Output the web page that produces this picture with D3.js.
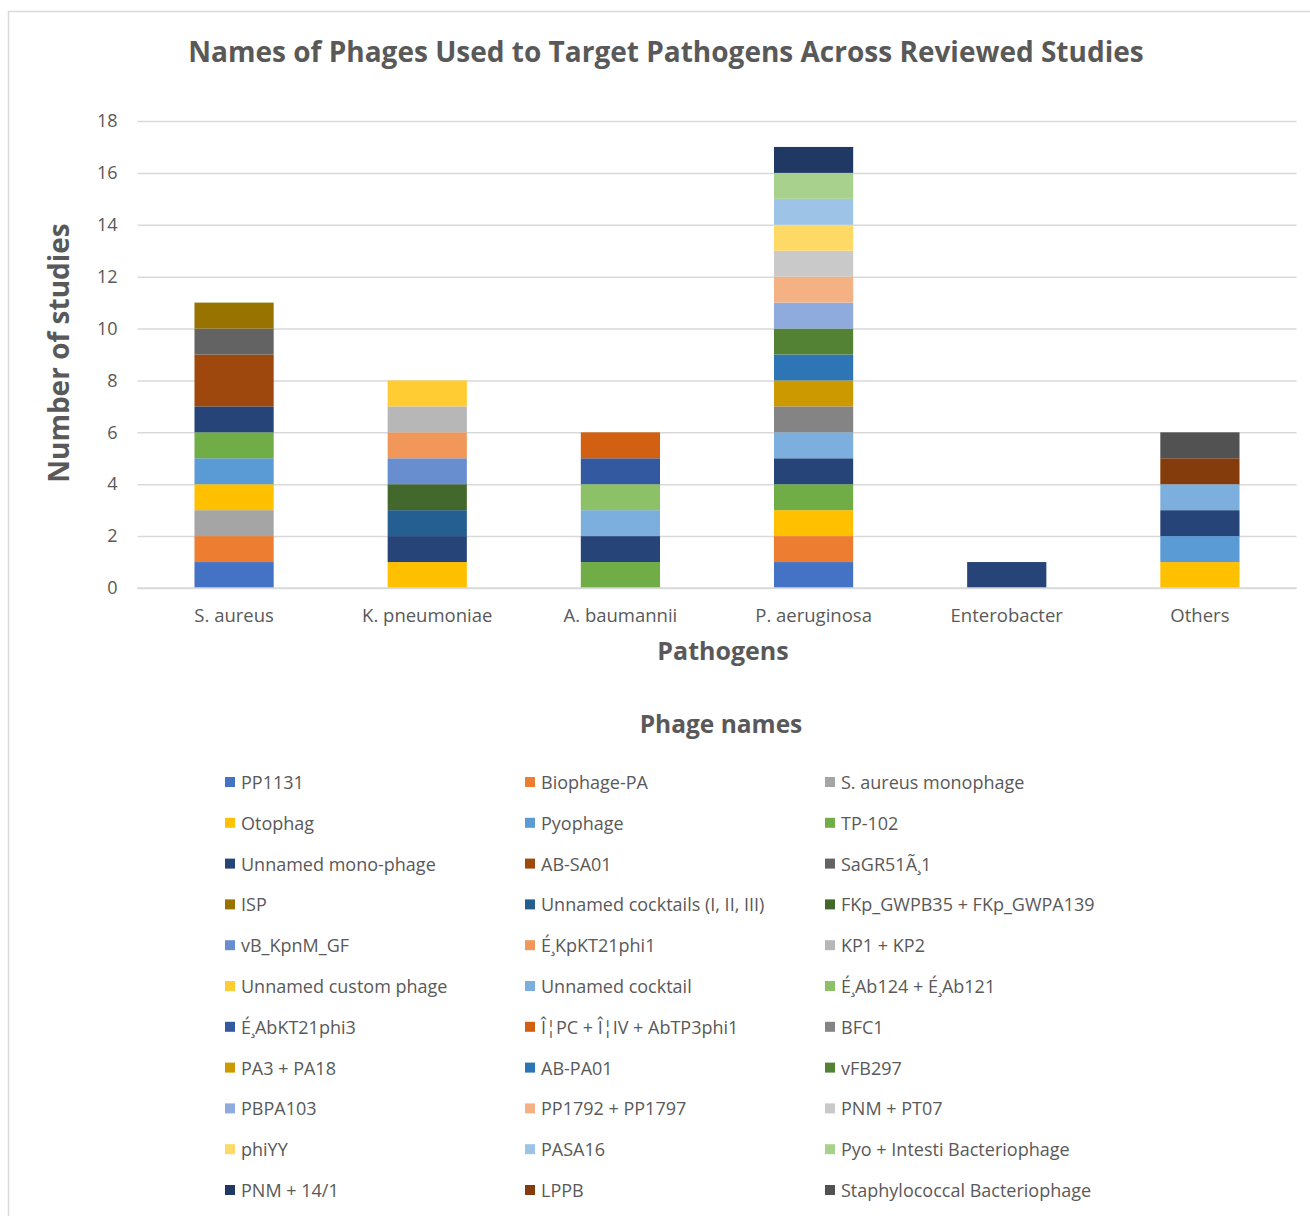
<!DOCTYPE html>
<html>
<head>
<meta charset="utf-8">
<script src="https://cdn.jsdelivr.net/npm/d3@7"></script>
<style>
  body { margin: 0; background: #fff; font-family: "Open Sans", Lato, sans-serif; }
  svg text { fill: #595959; }
</style>
</head>
<body>
<div id="chart"></div>
<script>
// Categories on the x axis
const pathogens = ["S. aureus", "K. pneumoniae", "A. baumannii", "P. aeruginosa", "Enterobacter", "Others"];

// Series names (legend order = stack order, bottom up)
const phageNames = [
  "PP1131", "Biophage-PA", "S. aureus monophage",
  "Otophag", "Pyophage", "TP-102",
  "Unnamed mono-phage", "AB-SA01", "SaGR51\u00C3\u00B81",
  "ISP", "Unnamed cocktails (I, II, III)", "FKp_GWPB35 + FKp_GWPA139",
  "vB_KpnM_GF", "\u00C9\u00B8KpKT21phi1", "KP1 + KP2",
  "Unnamed custom phage", "Unnamed cocktail", "\u00C9\u00B8Ab124 + \u00C9\u00B8Ab121",
  "\u00C9\u00B8AbKT21phi3", "\u00CE\u00A6PC + \u00CE\u00A6IV + AbTP3phi1", "BFC1",
  "PA3 + PA18", "AB-PA01", "vFB297",
  "PBPA103", "PP1792 + PP1797", "PNM + PT07",
  "phiYY", "PASA16", "Pyo + Intesti Bacteriophage",
  "PNM + 14/1", "LPPB", "Staphylococcal Bacteriophage"
];

// Office-theme series colours
const phageColors = [
  "#4472C4", "#ED7D31", "#A5A5A5", "#FFC000", "#5B9BD5", "#70AD47",
  "#264478", "#9E480E", "#636363", "#997300", "#255E91", "#43682B",
  "#698ED0", "#F1975A", "#B7B7B7", "#FFCD33", "#7CAFDD", "#8CC168",
  "#335AA1", "#D26012", "#848484", "#CC9A00", "#2E75B6", "#548235",
  "#8FAADC", "#F4B183", "#C9C9C9", "#FFD966", "#9DC3E6", "#A9D18E",
  "#203864", "#843C0C", "#525252"
];

// Number of studies per phage, one value per pathogen
// order: S. aureus, K. pneumoniae, A. baumannii, P. aeruginosa, Enterobacter, Others
const studyCounts = [
  [1, 0, 0, 1, 0, 0], // PP1131
  [1, 0, 0, 1, 0, 0], // Biophage-PA
  [1, 0, 0, 0, 0, 0], // S. aureus monophage
  [1, 1, 0, 1, 0, 1], // Otophag
  [1, 0, 0, 0, 0, 1], // Pyophage
  [1, 0, 1, 1, 0, 0], // TP-102
  [1, 1, 1, 1, 1, 1], // Unnamed mono-phage
  [2, 0, 0, 0, 0, 0], // AB-SA01
  [1, 0, 0, 0, 0, 0], // SaGR51
  [1, 0, 0, 0, 0, 0], // ISP
  [0, 1, 0, 0, 0, 0], // Unnamed cocktails (I, II, III)
  [0, 1, 0, 0, 0, 0], // FKp
  [0, 1, 0, 0, 0, 0], // vB_KpnM_GF
  [0, 1, 0, 0, 0, 0], // KpKT21phi1
  [0, 1, 0, 0, 0, 0], // KP1 + KP2
  [0, 1, 0, 0, 0, 0], // Unnamed custom phage
  [0, 0, 1, 1, 0, 1], // Unnamed cocktail
  [0, 0, 1, 0, 0, 0], // Ab124 + Ab121
  [0, 0, 1, 0, 0, 0], // AbKT21phi3
  [0, 0, 1, 0, 0, 0], // PC + IV + AbTP3phi1
  [0, 0, 0, 1, 0, 0], // BFC1
  [0, 0, 0, 1, 0, 0], // PA3 + PA18
  [0, 0, 0, 1, 0, 0], // AB-PA01
  [0, 0, 0, 1, 0, 0], // vFB297
  [0, 0, 0, 1, 0, 0], // PBPA103
  [0, 0, 0, 1, 0, 0], // PP1792 + PP1797
  [0, 0, 0, 1, 0, 0], // PNM + PT07
  [0, 0, 0, 1, 0, 0], // phiYY
  [0, 0, 0, 1, 0, 0], // PASA16
  [0, 0, 0, 1, 0, 0], // Pyo + Intesti
  [0, 0, 0, 1, 0, 0], // PNM + 14/1
  [0, 0, 0, 0, 0, 1], // LPPB
  [0, 0, 0, 0, 0, 1]  // Staphylococcal Bacteriophage
];

const yTicks = [0, 2, 4, 6, 8, 10, 12, 14, 16, 18];

function drawChart() {
  const W = 1310, H = 1216;
  const plot = {left: 137.5, right: 1296.5, top: 121, bottom: 588};

  const svg = d3.select("#chart")
    .append("svg")
    .attr("width", W)
    .attr("height", H);

  // Chart frame
  svg.append("rect")
    .attr("x", 8.5).attr("y", 11.5)
    .attr("width", W + 10).attr("height", H + 10)
    .attr("fill", "#fff")
    .attr("stroke", "#D9D9D9")
    .attr("stroke-width", 1.5);

  // Title
  svg.append("text")
    .attr("x", 666).attr("y", 51)
    .attr("text-anchor", "middle")
    .attr("dominant-baseline", "central")
    .style("font-size", "28px")
    .style("font-weight", "bold")
    .text("Names of Phages Used to Target Pathogens Across Reviewed Studies");

  const x = d3.scaleBand()
    .domain(pathogens)
    .range([plot.left, plot.right])
    .paddingInner(0.59)
    .paddingOuter(0.295);

  const y = d3.scaleLinear()
    .domain([0, 18])
    .range([plot.bottom, plot.top]);

  // Gridlines and y tick labels
  const yAxis = svg.append("g")
    .attr("transform", `translate(${plot.left},0)`)
    .call(d3.axisLeft(y).tickValues(yTicks).tickSize(-(plot.right - plot.left)).tickPadding(20));
  yAxis.select(".domain").remove();
  yAxis.selectAll(".tick line").attr("stroke", "#D9D9D9").attr("stroke-width", 1.5);
  yAxis.selectAll(".tick text")
    .attr("fill", "#595959")
    .style("font-size", "18px")
    .style("font-family", "'Open Sans', sans-serif");

  // Stacked bars
  const rows = pathogens.map((p, i) => {
    const r = {pathogen: p};
    phageNames.forEach((n, j) => { r[n] = studyCounts[j][i]; });
    return r;
  });
  const stack = d3.stack().keys(phageNames)(rows);

  svg.append("g")
    .selectAll("g")
    .data(stack)
    .join("g")
    .attr("fill", (d, i) => phageColors[i])
    .selectAll("rect")
    .data(d => d.filter(s => s[1] - s[0] > 0))
    .join("rect")
    .attr("x", d => x(d.data.pathogen))
    .attr("width", x.bandwidth())
    .attr("y", d => y(d[1]))
    .attr("height", d => y(d[0]) - y(d[1]));

  // x axis line and labels
  svg.append("line")
    .attr("x1", plot.left).attr("x2", plot.right)
    .attr("y1", plot.bottom).attr("y2", plot.bottom)
    .attr("stroke", "#D9D9D9").attr("stroke-width", 1.5);

  const xAxis = svg.append("g")
    .attr("transform", `translate(0,${plot.bottom})`)
    .call(d3.axisBottom(x).tickSize(0).tickPadding(21));
  xAxis.select(".domain").remove();
  xAxis.selectAll(".tick text")
    .attr("fill", "#595959")
    .style("font-size", "18.5px")
    .style("font-family", "'Open Sans', sans-serif");

  // Axis titles
  svg.append("text")
    .attr("x", 723).attr("y", 650)
    .attr("text-anchor", "middle")
    .attr("dominant-baseline", "central")
    .style("font-size", "25px")
    .style("font-weight", "bold")
    .text("Pathogens");

  svg.append("text")
    .attr("transform", "translate(58,353) rotate(-90)")
    .attr("text-anchor", "middle")
    .attr("dominant-baseline", "central")
    .style("font-size", "28px")
    .style("font-weight", "bold")
    .text("Number of studies");

  // Legend
  svg.append("text")
    .attr("x", 721).attr("y", 723)
    .attr("text-anchor", "middle")
    .attr("dominant-baseline", "central")
    .style("font-size", "24.5px")
    .style("font-weight", "bold")
    .text("Phage names");

  const legend = svg.append("g")
    .selectAll("g")
    .data(phageNames)
    .join("g")
    .attr("transform", (d, i) => `translate(${225 + (i % 3) * 300},${782 + Math.floor(i / 3) * 40.8})`);

  legend.append("rect")
    .attr("x", 0).attr("y", -5)
    .attr("width", 10).attr("height", 10)
    .attr("fill", (d, i) => phageColors[i]);

  legend.append("text")
    .attr("x", 16).attr("y", 0)
    .attr("dominant-baseline", "central")
    .style("font-size", "18px")
    .text(d => d);
}

window.addEventListener('DOMContentLoaded', drawChart);
</script>
</body>
</html>
